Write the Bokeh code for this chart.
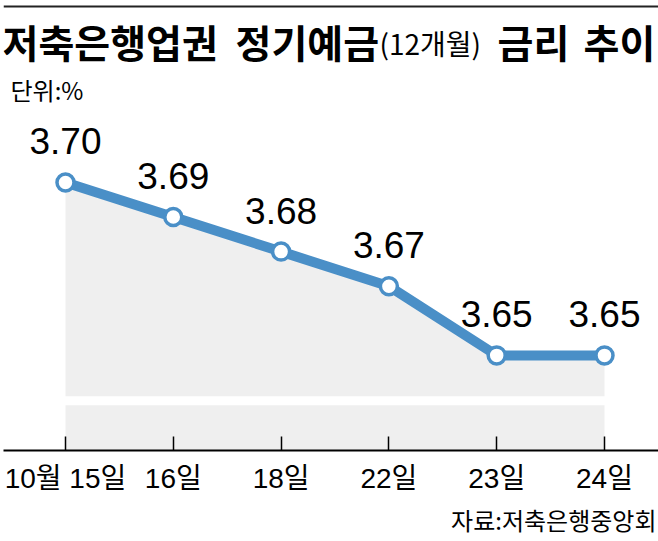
from bokeh.plotting import figure
from bokeh.models import Label, FixedTicker, Title, Span
from bokeh.core.properties import value
from bokeh.embed import file_html
from bokeh.resources import INLINE

# ---- data ----
categories = ["10월 15일", "16일", "18일", "22일", "23일", "24일"]
rates = [3.70, 3.69, 3.68, 3.67, 3.65, 3.65]
rate_labels = ["3.70", "3.69", "3.68", "3.67", "3.65", "3.65"]

title_parts = ["저축은행업권", "정기예금", "(12개월)", "금리", "추이"]
unit_text = "단위:%"
source_text = "자료:저축은행중앙회"

# ---- layout constants ----
W, H = 658, 541
BOTTOM = 91
LEFT = 3
Y_LO, Y_HI = 3.6225, 3.7526
BREAK_TOP, BREAK_BOT = 3.6382, 3.6356
X_LO, X_HI = -0.575, 5.501

BLUE = "#4a8fc7"
FILL = "#efefef"
NUM_FONT = "Liberation Sans, Noto Sans CJK KR, sans-serif"
KR_FONT = "Noto Sans CJK KR"

xs = list(range(len(categories)))

p = figure(width=W, height=H, output_backend="svg", toolbar_location=None,
           x_range=(X_LO, X_HI), y_range=(Y_LO, Y_HI),
           min_border_left=LEFT, min_border_right=0, min_border_top=0,
           min_border_bottom=BOTTOM, y_axis_location=None)
p.outline_line_color = None
p.grid.visible = False
p.background_fill_color = "white"
p.border_fill_color = "white"

# area fill with axis break
p.varea(x=xs, y1=rates, y2=[BREAK_TOP] * len(xs), fill_color=FILL)
p.varea(x=[xs[0], xs[-1]], y1=[BREAK_BOT, BREAK_BOT], y2=[Y_LO, Y_LO], fill_color=FILL)

# line and markers
p.line(xs, rates, line_color=BLUE, line_width=10, line_join="round")
p.scatter(xs, rates, size=17, fill_color="white", line_color=BLUE, line_width=3.5)

# value labels
p.text(xs, rates, text=rate_labels, text_align="center", text_baseline="bottom",
       y_offset=-28, text_font=value(NUM_FONT), text_font_size="37px", text_color="black")

# x axis
ax = p.xaxis[0]
ax.ticker = FixedTicker(ticks=xs)
ax.major_label_overrides = {i: c for i, c in enumerate(categories)}
ax.minor_tick_line_color = None
ax.major_tick_in = 14
ax.major_tick_out = 0
ax.major_tick_line_width = 1.5
ax.major_tick_line_color = "black"
ax.axis_line_width = 2
ax.axis_line_color = "black"
ax.major_label_standoff = 12
ax.major_label_text_font = NUM_FONT
ax.major_label_text_font_size = "28px"
ax.major_label_text_color = "black"

# source below the axis
p.add_layout(Title(text=source_text, align="right", text_font=KR_FONT,
                   text_font_size="24px", text_font_style="normal",
                   text_color="black", standoff=6, offset=2), "below")

# top rule
p.add_layout(Span(location=Y_HI - 6 / 3460, dimension="width", line_color="#222222", line_width=2))

# titles and notes (screen units relative to frame)
def lab(text, x, y, size, style="normal", align="left", font=KR_FONT):
    p.add_layout(Label(text=text, x=x, y=y, x_units="screen", y_units="screen",
                       text_font=font, text_font_size=size, text_font_style=style,
                       text_align=align, text_baseline="middle", text_color="black"))

lab(title_parts[0], -1, 410, "39px", "bold")
lab(title_parts[1], 232, 410, "39px", "bold")
lab(title_parts[2], 376, 408, "28px")
lab(title_parts[3], 494, 410, "39px", "bold")
lab(title_parts[4], 580, 410, "39px", "bold")
lab(unit_text, 7, 361, "24px")

open("out.html", "w").write(file_html(p, INLINE))
